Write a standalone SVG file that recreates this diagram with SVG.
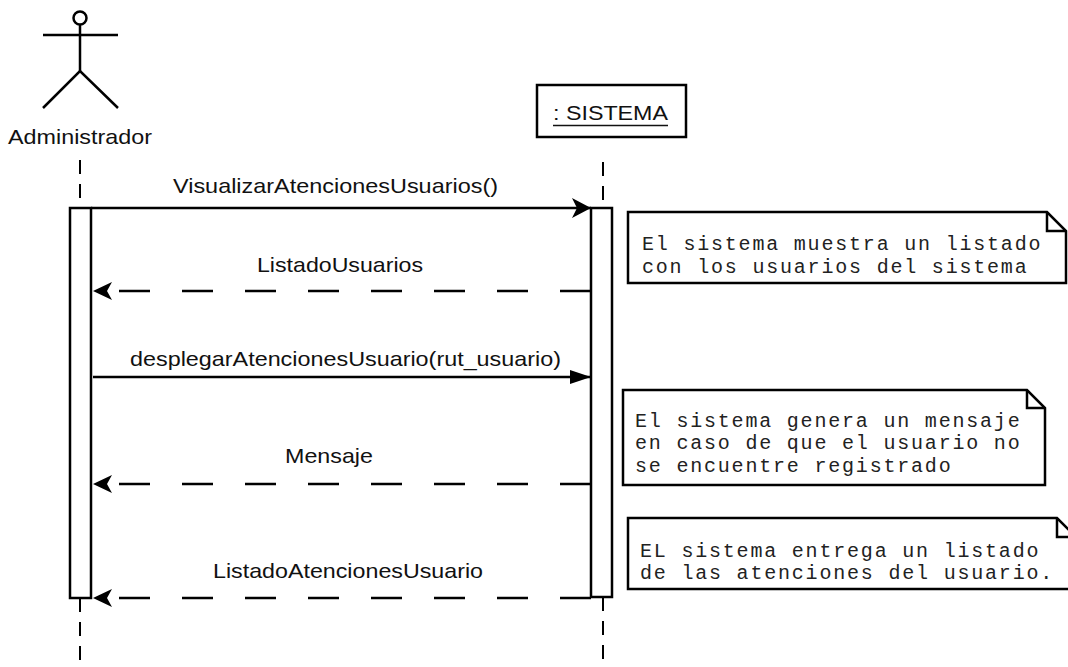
<svg xmlns="http://www.w3.org/2000/svg" width="1068" height="667" viewBox="0 0 1068 667">
<style>
.lbl{font-family:"Liberation Sans",Arial,sans-serif;font-size:21px;fill:#111}
.note{font-family:"Liberation Mono","Courier New",monospace;font-size:20px;letter-spacing:1.8px;fill:#222}
.ln{stroke:#000;stroke-width:2.5;fill:none}
.life{stroke:#000;stroke-width:2;stroke-dasharray:14 10;fill:none}
.box{stroke:#000;stroke-width:2.5;fill:#fff}
.msg{stroke:#000;stroke-width:2.5;fill:none}
.ret{stroke:#000;stroke-width:2.5;fill:none;stroke-dasharray:31 32}
</style>
<defs>
<marker id="ahN" viewBox="0 0 20 20" refX="19" refY="10" markerWidth="20" markerHeight="20" markerUnits="userSpaceOnUse" orient="auto">
<path d="M0,0 L19,10 L0,20 L5,10 Z" fill="#000"/>
</marker>
<marker id="ahT" viewBox="0 0 22 14" refX="21" refY="7" markerWidth="22" markerHeight="14" markerUnits="userSpaceOnUse" orient="auto">
<path d="M0,0 L21,7 L0,14 Z" fill="#000"/>
</marker>
<marker id="ahR" viewBox="0 0 20 18" refX="19" refY="9" markerWidth="20" markerHeight="18" markerUnits="userSpaceOnUse" orient="auto">
<path d="M0,0 L19,9 L0,18 L5,9 Z" fill="#000"/>
</marker>
</defs>

<g id="lifelines">
<line class="life" x1="80" y1="160" x2="80" y2="208"/>
<line class="life" x1="80" y1="598" x2="80" y2="667"/>
<line class="life" x1="603" y1="162" x2="603" y2="208"/>
<line class="life" x1="603" y1="597" x2="603" y2="667"/>
</g>

<g id="administrador">
<circle cx="80" cy="18" r="6.5" class="ln" fill="#fff"/>
<line class="ln" x1="43" y1="35" x2="118" y2="35"/>
<line class="ln" x1="80" y1="25" x2="80" y2="71"/>
<path class="ln" d="M43,108 L80,71 L118,108"/>
<text class="lbl" x="80" y="144" text-anchor="middle" textLength="144" lengthAdjust="spacingAndGlyphs">Administrador</text>
</g>

<g id="sistema">
<rect class="box" x="537" y="85" width="149" height="52"/>
<text class="lbl" x="553" y="120" textLength="115" lengthAdjust="spacingAndGlyphs">: SISTEMA</text>
<line x1="553" y1="125.5" x2="668" y2="125.5" stroke="#111" stroke-width="1.3"/>
</g>

<g id="activation-admin">
<rect class="box" x="70" y="208" width="21" height="390"/>
</g>
<g id="activation-sistema">
<rect class="box" x="591" y="208" width="21" height="389"/>
</g>

<g id="connectors">
<line class="msg" x1="91" y1="208" x2="591" y2="208" marker-end="url(#ahN)"/>
<text class="lbl" x="173" y="193" textLength="325" lengthAdjust="spacingAndGlyphs">VisualizarAtencionesUsuarios()</text>

<line class="ret" x1="591" y1="291" x2="93" y2="291" marker-end="url(#ahR)"/>
<text class="lbl" x="257" y="272" textLength="166" lengthAdjust="spacingAndGlyphs">ListadoUsuarios</text>

<line class="msg" x1="93" y1="377" x2="591" y2="377" marker-end="url(#ahT)"/>
<text class="lbl" x="130" y="366" textLength="431" lengthAdjust="spacingAndGlyphs">desplegarAtencionesUsuario(rut_usuario)</text>

<line class="ret" x1="591" y1="484" x2="93" y2="484" marker-end="url(#ahR)"/>
<text class="lbl" x="285" y="463" textLength="88" lengthAdjust="spacingAndGlyphs">Mensaje</text>

<line class="ret" x1="591" y1="598" x2="93" y2="598" marker-end="url(#ahR)"/>
<text class="lbl" x="213" y="578" textLength="270" lengthAdjust="spacingAndGlyphs">ListadoAtencionesUsuario</text>
</g>

<g id="note1">
<path class="box" d="M628,212 L1047,212 L1066,231 L1066,283 L628,283 Z"/>
<path class="ln" d="M1047,212 L1047,231 L1066,231" stroke-width="2"/>
<text class="note" x="642" y="250">El sistema muestra un listado</text>
<text class="note" x="642" y="273">con los usuarios del sistema</text>
</g>

<g id="note2">
<path class="box" d="M623,390 L1027,390 L1045,408 L1045,485 L623,485 Z"/>
<path class="ln" d="M1027,390 L1027,408 L1045,408" stroke-width="2"/>
<text class="note" x="635" y="427">El sistema genera un mensaje</text>
<text class="note" x="635" y="449">en caso de que el usuario no</text>
<text class="note" x="635" y="472">se encuentre registrado</text>
</g>

<g id="note3">
<path class="box" d="M628,518 L1057,518 L1076,537 L1076,589 L628,589 Z"/>
<path class="ln" d="M1057,518 L1057,537 L1076,537" stroke-width="2"/>
<text class="note" x="640" y="557">EL sistema entrega un listado</text>
<text class="note" x="640" y="579">de las atenciones del usuario.</text>
</g>
</svg>
